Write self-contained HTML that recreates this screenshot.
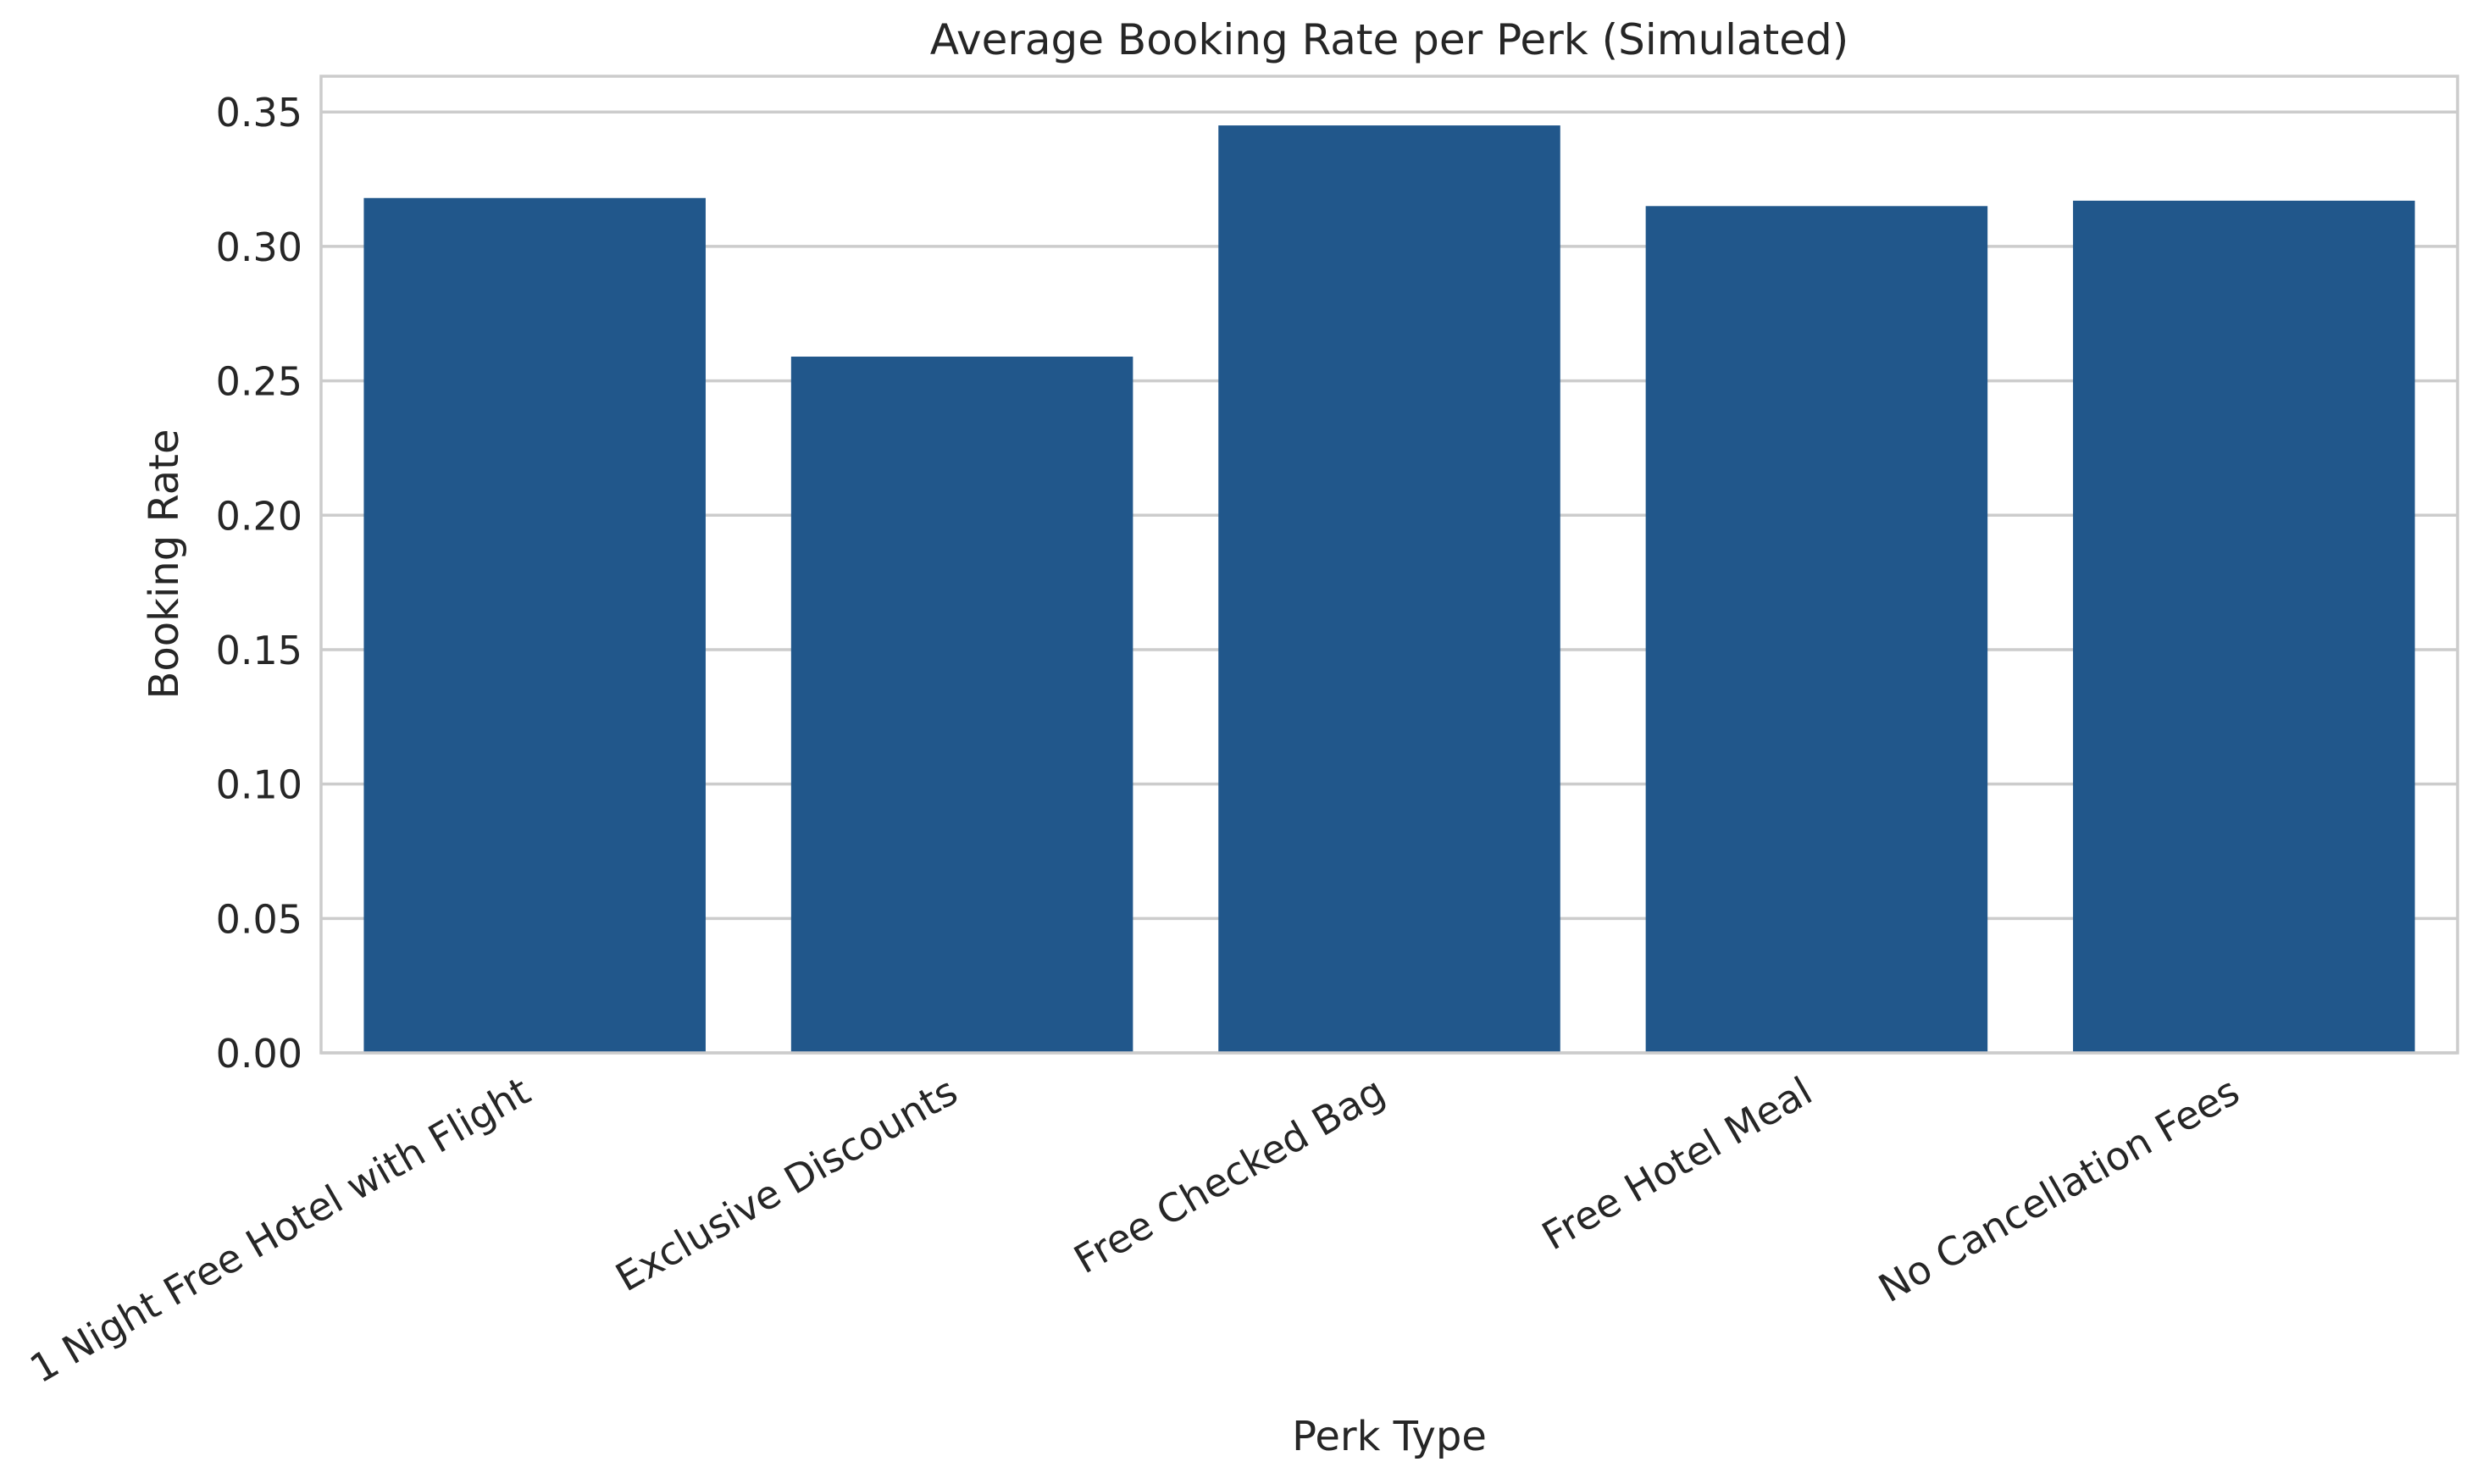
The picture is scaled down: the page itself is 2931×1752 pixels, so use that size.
<!DOCTYPE html>
<html><head><meta charset="utf-8"><style>
html,body{margin:0;padding:0;background:#fff;}
svg{display:block;font-family:"DejaVu Sans","Liberation Sans",sans-serif;}
</style></head><body>
<svg id="chart" width="2931" height="1752" viewBox="0 0 2931 1752" xmlns="http://www.w3.org/2000/svg">
<rect width="2931" height="1752" fill="#fff"/>
<g id="grid"></g><g id="bars"></g><g id="frame"></g><g id="ticks"></g>
<text x="1640" y="64" text-anchor="middle" font-size="50" fill="#262626">Average Booking Rate per Perk (Simulated)</text>
<text transform="translate(210,666) rotate(-90)" text-anchor="middle" font-size="48" fill="#262626">Booking Rate</text>
<text x="1640" y="1712" text-anchor="middle" font-size="48" fill="#262626">Perk Type</text>
</svg>
<script>
const categories = ["1 Night Free Hotel with Flight","Exclusive Discounts","Free Checked Bag","Free Hotel Meal","No Cancellation Fees"];
const bookingRates = [0.318, 0.259, 0.345, 0.315, 0.317];
const yTicks = [0,0.05,0.10,0.15,0.20,0.25,0.30,0.35];
const yTickLabels = ["0.00","0.05","0.10","0.15","0.20","0.25","0.30","0.35"];

const L=379,R=2901,T=90,B=1243,YMAX=0.3633;
const NS="http://www.w3.org/2000/svg";
function y(v){return B-(v/YMAX)*(B-T);}
const step=(R-L)/categories.length;
function xc(i){return L+step*(i+0.5);}
function mk(tag,attrs,parent){const e=document.createElementNS(NS,tag);for(const k in attrs)e.setAttribute(k,attrs[k]);parent.appendChild(e);return e;}
const grid=document.getElementById('grid'),bars=document.getElementById('bars'),frame=document.getElementById('frame'),ticks=document.getElementById('ticks');
yTicks.forEach((t,i)=>{
  const ln=mk('line',{x1:L,x2:R,y1:y(t),y2:y(t),stroke:'#cccccc','stroke-width':3.5},grid);
  
  
  const tx=mk('text',{x:L-22,y:y(t)+17,'text-anchor':'end','font-size':46,fill:'#262626'},ticks);
  tx.textContent=yTickLabels[i];
  
  
});
const bw=step*0.8;
bookingRates.forEach((v,i)=>{
  const r=mk('rect',{x:xc(i)-bw/2,y:y(v),width:bw,height:B-y(v),fill:'#21578b'},bars);
  
  
});
categories.forEach((c,i)=>{
  const ax=xc(i)-2, ay=B+55;
  const tx=mk('text',{x:ax,y:ay,'text-anchor':'end','font-size':46,fill:'#262626',transform:`rotate(-30 ${ax} ${ay})`},ticks);
  tx.textContent=c;
  
  
});
const fr=mk('rect',{x:L,y:T,width:R-L,height:B-T,fill:'none',stroke:'#cccccc','stroke-width':3.5},frame);


</script>
</body></html>
